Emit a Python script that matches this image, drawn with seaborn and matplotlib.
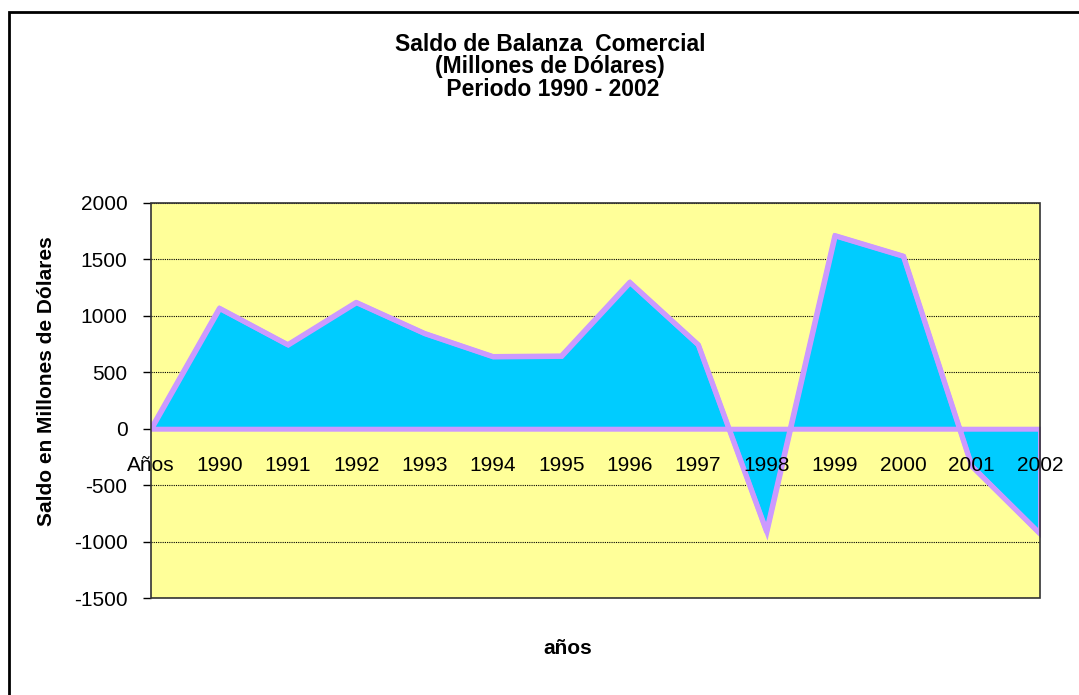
import matplotlib
matplotlib.use("Agg")
import matplotlib.pyplot as plt
import seaborn as sns
import pandas as pd
from matplotlib.patches import Rectangle

categories = ["Años", "1990", "1991", "1992", "1993", "1994", "1995", "1996",
              "1997", "1998", "1999", "2000", "2001", "2002"]
saldo = [0, 1068, 745, 1120, 845, 640, 645, 1298, 745, -910, 1712, 1530, -330, -930]
y_ticks = [-1500, -1000, -500, 0, 500, 1000, 1500, 2000]

title = "Saldo de Balanza  Comercial\n(Millones de Dólares)\n Periodo 1990 - 2002"
y_label = "Saldo en Millones de Dólares"
x_label = "años"

FILL = "#00CCFF"
EDGE = "#CC99FF"
PLOT_BG = "#FFFF99"

sns.set_style("white")
plt.rcParams["font.family"] = ["Liberation Sans", "DejaVu Sans"]
plt.rcParams["text.color"] = "black"
plt.rcParams["xtick.color"] = "black"
plt.rcParams["ytick.color"] = "black"

df = pd.DataFrame({"pos": range(len(categories)), "saldo": saldo})

W, H = 1079, 695
fig = plt.figure(figsize=(W / 100, H / 100), dpi=100)
fig.patch.set_facecolor("white")
ax = fig.add_axes([151 / W, 1 - 598 / H, (1040 - 151) / W, (598 - 203) / H])
ax.set_facecolor(PLOT_BG)

ax.fill_between(df["pos"], df["saldo"], 0, facecolor=FILL, edgecolor=EDGE,
                linewidth=3.6, joinstyle="miter", zorder=3)
sns.lineplot(data=df, x="pos", y="saldo", ax=ax, color=EDGE, linewidth=3.6,
             zorder=4)

# category axis crosses at zero
ax.spines["bottom"].set_position(("data", 0))
ax.spines["bottom"].set_visible(False)
for s in ["top", "right", "left"]:
    ax.spines[s].set_visible(False)

ax.set_xlim(0, len(categories) - 1)
ax.set_ylim(-1500, 2000)
ax.set_yticks(y_ticks)
ax.set_yticklabels([str(v) for v in y_ticks], fontsize=15, color="black")
ax.yaxis.grid(True, color="black", linestyle=(0, (1, 1)), linewidth=0.8, zorder=1)
ax.set_axisbelow(True)
ax.tick_params(axis="y", length=6, width=1, color="black", pad=11, left=True)

ax.set_xticks(df["pos"])
ax.set_xticklabels(categories, fontsize=15, color="black")
ax.tick_params(axis="x", length=0, pad=20)
ax.xaxis.set_zorder(6)

ax.add_patch(Rectangle((0, 0), 1, 1, transform=ax.transAxes, fill=False,
                       edgecolor="#333333", linewidth=1.2, zorder=5, clip_on=False))
ax.set_xlabel("")
ax.set_ylabel("")

fig.text(47 / W, 1 - 381 / H, y_label, rotation=90, ha="center", va="center",
         fontsize=15, fontweight="bold", color="black")
fig.text(568 / W, 1 - 648 / H, x_label, ha="center", va="center",
         fontsize=15, fontweight="bold", color="black")
fig.text(550 / W, 1 - 67 / H, title, ha="center", va="center",
         fontsize=16.5, fontweight="bold", linespacing=0.97, color="black")

fig.add_artist(Rectangle((9 / W, -0.01), 1.02, 1 - 12 / H + 0.01,
                         transform=fig.transFigure, fill=False,
                         edgecolor="black", linewidth=2))

fig.savefig("out.png", dpi=100)
